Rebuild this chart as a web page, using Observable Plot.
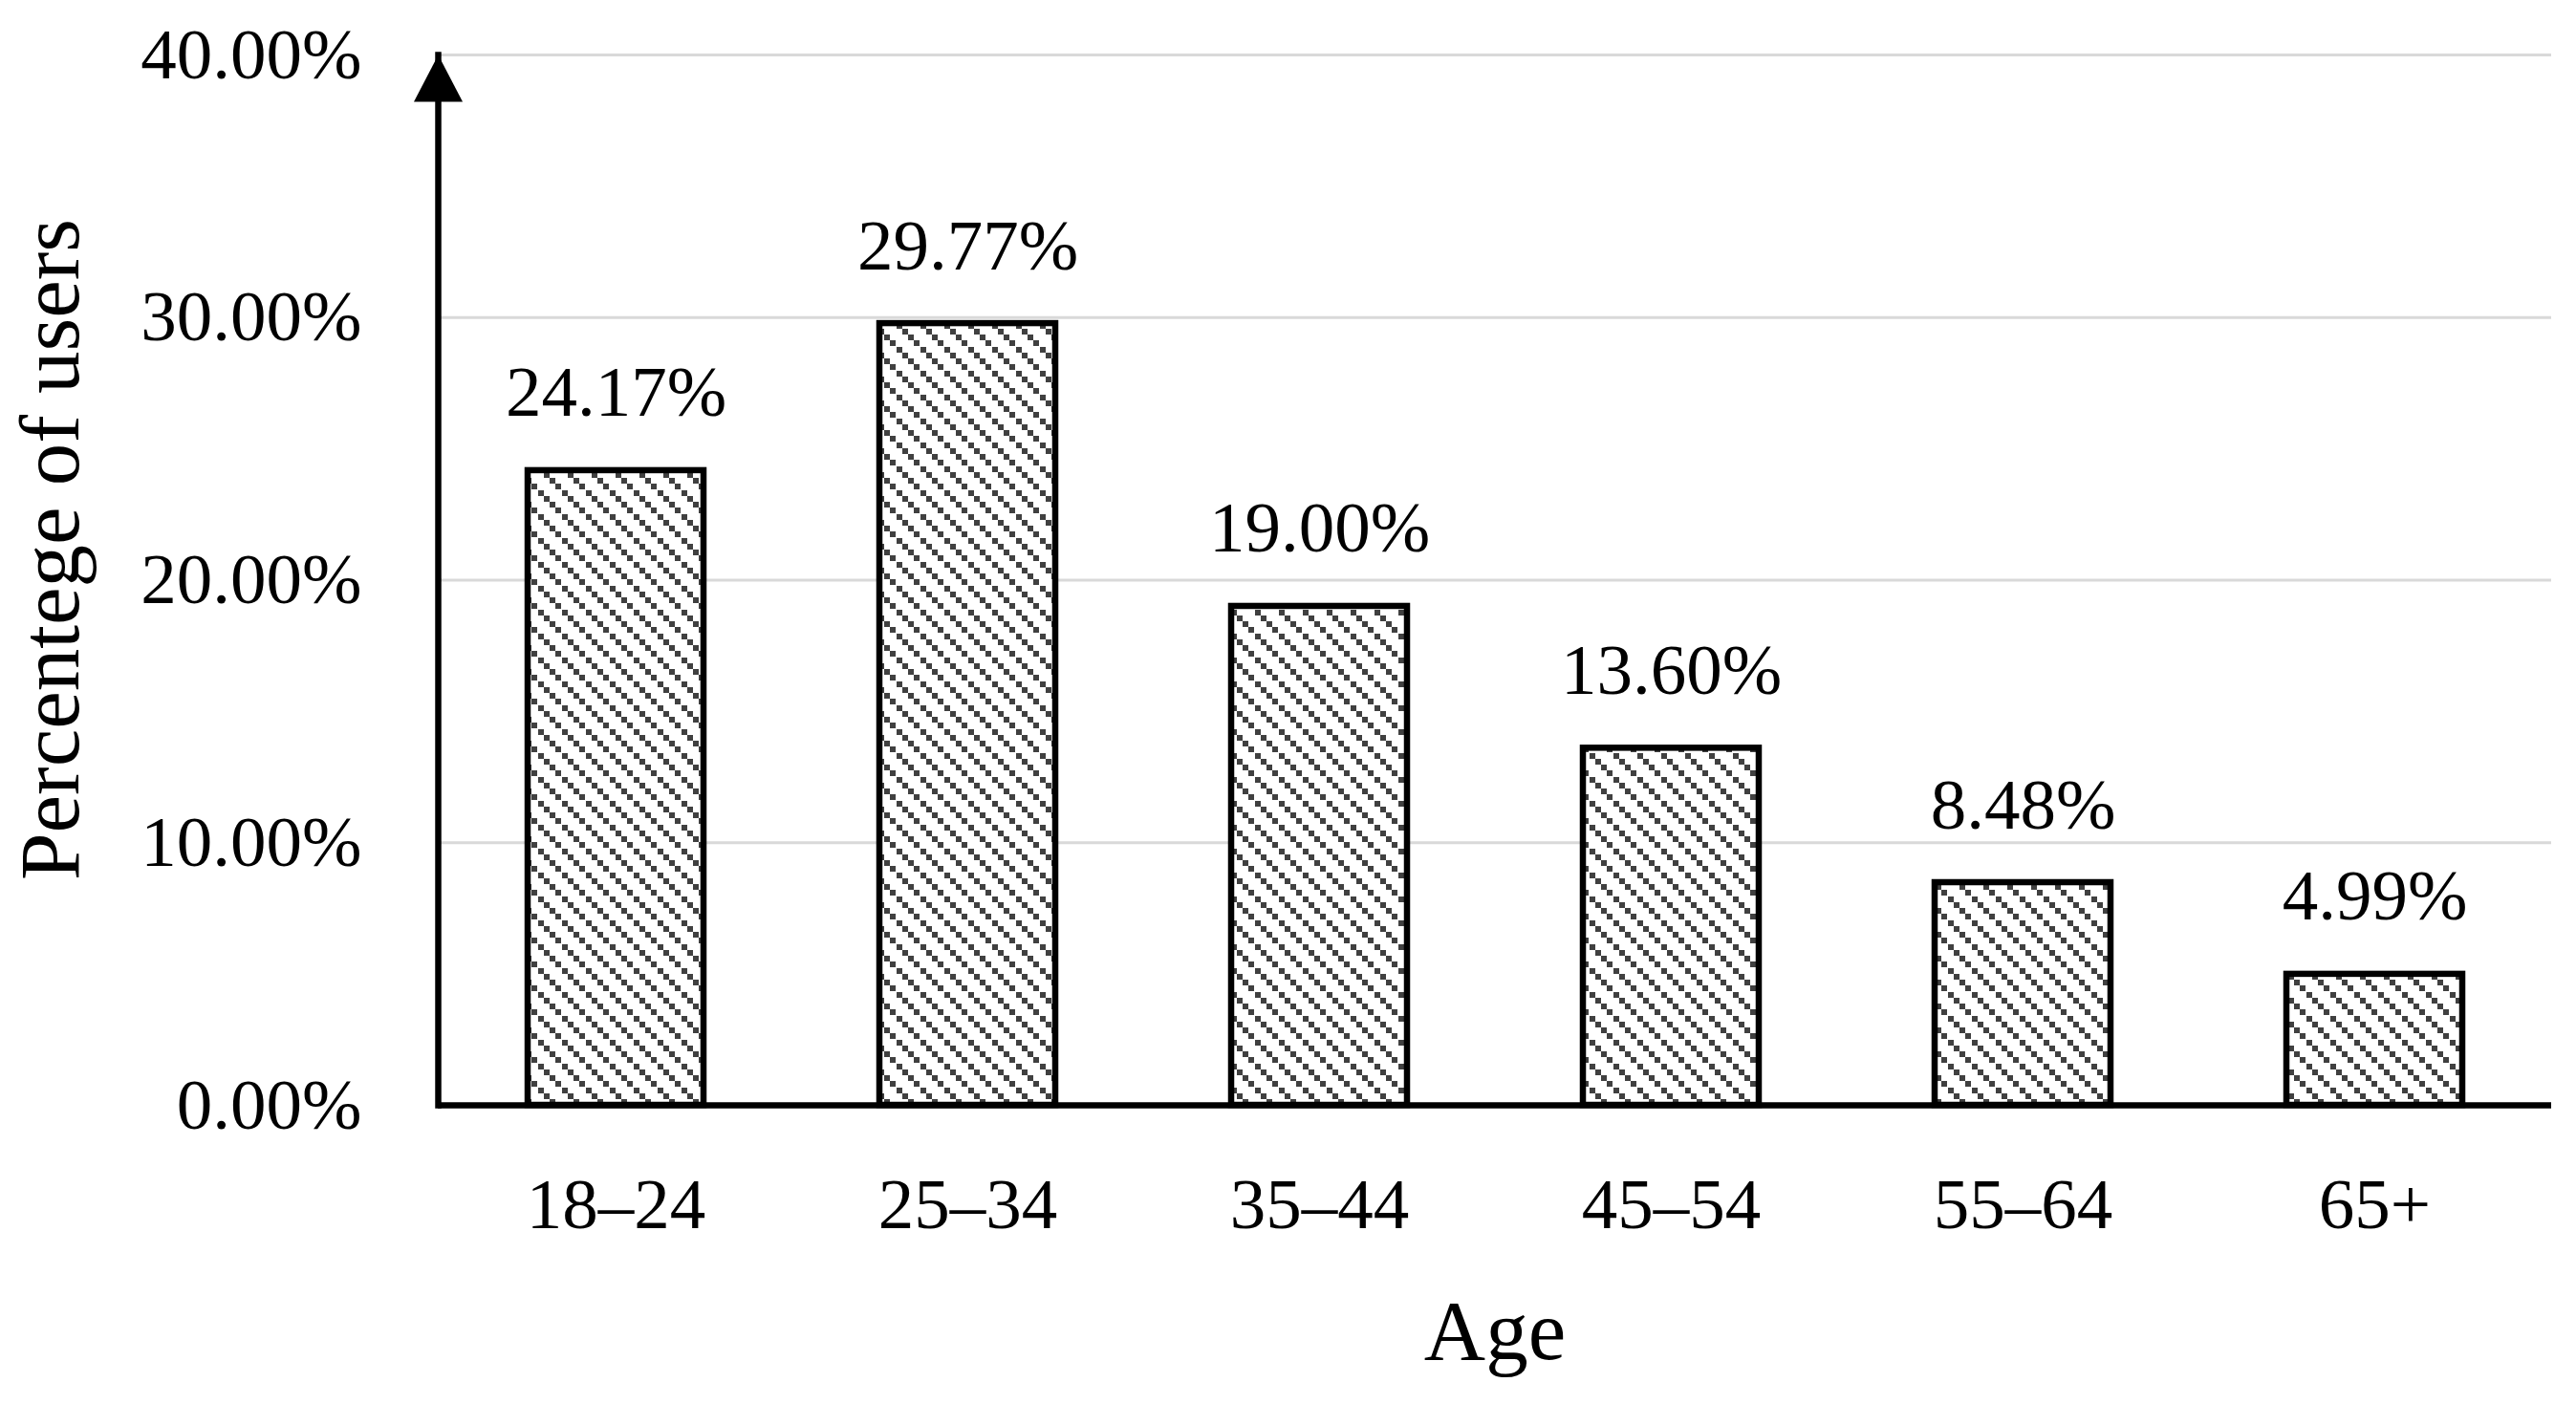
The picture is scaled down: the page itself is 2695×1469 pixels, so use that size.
<!DOCTYPE html>
<html><head><meta charset="utf-8">
<script src="https://cdn.jsdelivr.net/npm/d3@7"></script>
<script src="https://cdn.jsdelivr.net/npm/@observablehq/plot@0.6"></script>
<style>html,body{margin:0;padding:0;background:#fff;} svg{display:block}</style>
</head><body><div id="chart"></div>
<script>
const ages = ["18–24", "25–34", "35–44", "45–54", "55–64", "65+"];
const shares = [24.17, 29.77, 19.00, 13.60, 8.48, 4.99];
const yTicks = [0, 10, 20, 30, 40];
const xTitle = "Age";
const yTitle = "Percentege of users";

const data = ages.map((age, i) => ({age, share: shares[i]}));
const fmt = v => v.toFixed(2) + "%";
const arrowHead = {draw(ctx) { ctx.moveTo(0, 0); ctx.lineTo(25.5, 49); ctx.lineTo(-25.5, 49); ctx.closePath(); }};

const chart = Plot.plot({
  width: 2695, height: 1469,
  marginLeft: 458, marginRight: 26, marginTop: 57, marginBottom: 313,
  style: {fontFamily: "'Liberation Serif', serif", background: "#fff", color: "#000", fontSize: "75px"},
  x: {domain: ages, paddingInner: 0.5, paddingOuter: 0.25},
  y: {domain: [0, 40]},
  marks: [
    Plot.gridY(yTicks.slice(1), {stroke: "#d9d9d9", strokeOpacity: 1, strokeWidth: 3}),
    Plot.barY(data, {x: "age", y: "share", fill: "url(#hatch)", stroke: "#000", strokeWidth: 6.5}),
    Plot.ruleY([0], {stroke: "#000", strokeWidth: 6.5}),
    Plot.frame({anchor: "left", stroke: "#000", strokeWidth: 6.5}),
    Plot.dot([40], {y: d => d, frameAnchor: "left", symbol: arrowHead, fill: "#000", stroke: "none", r: 10}),
    Plot.text(data, {x: "age", y: "share", text: d => fmt(d.share), lineAnchor: "bottom", dy: -57, fontSize: 75, fill: "#000"}),
    Plot.axisY(yTicks, {tickSize: 0, tickPadding: 80, tickFormat: fmt, fontSize: 75, label: null}),
    Plot.axisX({tickSize: 0, tickPadding: 75, fontSize: 75, label: null}),
    Plot.text([yTitle], {frameAnchor: "left", textAnchor: "middle", lineAnchor: "middle", rotate: -90, dx: -405, dy: -32, fontSize: 89, text: d => d, fill: "#000"}),
    Plot.text([xTitle], {frameAnchor: "bottom", textAnchor: "middle", dy: 265, lineAnchor: "bottom", fontSize: 89, text: d => d, fill: "#000"})
  ]
});

const defs = d3.select(chart).insert("defs", ":first-child");
const pat = defs.append("pattern").attr("id", "hatch").attr("patternUnits", "userSpaceOnUse")
  .attr("width", 25).attr("height", 25);
pat.append("rect").attr("width", 25).attr("height", 25).attr("fill", "#fff");
for (const k of [0, 1, 2, 3]) {
  pat.append("rect").attr("x", k * 6.25).attr("y", k * 6.25).attr("width", 6).attr("height", 6)
    .attr("fill", "#404040").attr("shape-rendering", "crispEdges");
}
document.getElementById("chart").appendChild(chart);
</script>
</body></html>
